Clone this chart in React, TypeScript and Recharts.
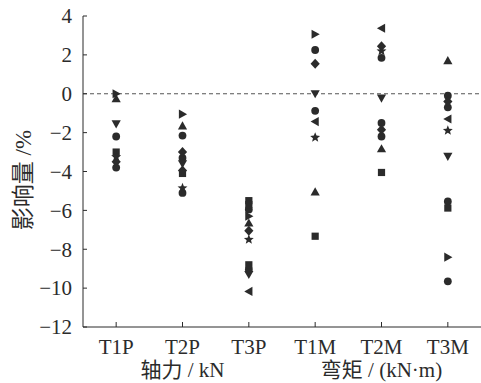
// Influence of the test cases on axial force and bending moment — scatter by case.
import { ReferenceLine, Scatter, ScatterChart, XAxis, YAxis } from "recharts";

const categories = ["T1P", "T2P", "T3P", "T1M", "T2M", "T3M"];
const groupLabels: Record<number, string> = { 1: "轴力 / kN", 4: "弯矩 / (kN·m)" };
const yTicks = [-12, -10, -8, -6, -4, -2, 0, 2, 4];

type Pt = [string, number];

const circlePts: Pt[] = [
  ["T1P", -2.2], ["T1P", -3.8],
  ["T2P", -2.15], ["T2P", -3.3], ["T2P", -5.1],
  ["T3P", -5.95], ["T3P", -9.05],
  ["T1M", 2.25], ["T1M", -0.88],
  ["T2M", 1.85], ["T2M", -1.5], ["T2M", -2.2],
  ["T3M", -0.1], ["T3M", -0.7], ["T3M", -5.54], ["T3M", -9.65],
];
const squarePts: Pt[] = [
  ["T1P", -3.0],
  ["T2P", -4.1],
  ["T3P", -5.5], ["T3P", -5.7], ["T3P", -8.8],
  ["T1M", -7.33],
  ["T2M", -4.05],
  ["T3M", -5.88],
];
const diamondPts: Pt[] = [
  ["T1P", -3.5],
  ["T2P", -3.0], ["T2P", -3.95],
  ["T3P", -7.05],
  ["T1M", 1.54],
  ["T2M", 2.45], ["T2M", -1.85],
  ["T3M", -0.4],
];
const upPts: Pt[] = [
  ["T1P", -0.25],
  ["T2P", -1.65],
  ["T3P", -6.65],
  ["T1M", -5.05],
  ["T2M", -2.83],
  ["T3M", 1.7],
];
const downPts: Pt[] = [
  ["T1P", -1.55],
  ["T2P", -3.6],
  ["T3P", -9.3],
  ["T1M", 0.0],
  ["T2M", -0.23],
  ["T3M", -3.22],
];
const leftPts: Pt[] = [
  ["T3P", -10.17],
  ["T1M", -1.43],
  ["T2M", 3.37],
  ["T3M", -1.3],
];
const rightPts: Pt[] = [
  ["T1P", 0.0],
  ["T2P", -1.05],
  ["T3P", -6.3],
  ["T1M", 3.06],
  ["T3M", -8.41],
];
const starPts: Pt[] = [
  ["T1P", -3.25],
  ["T2P", -4.85],
  ["T3P", -7.5],
  ["T1M", -2.25],
  ["T2M", 2.2],
  ["T3M", -1.89],
];

const INK = "#2b2b2b";
const FONT = "'Liberation Serif', 'Noto Sans CJK SC', serif";

const toRows = (pts: Pt[]) => pts.map(([c, v]) => ({ x: categories.indexOf(c) + 1, y: v }));

function starPath(cx: number, cy: number, R: number, r: number) {
  const pts: string[] = [];
  for (let i = 0; i < 10; i++) {
    const a = -Math.PI / 2 + (i * Math.PI) / 5;
    const rr = i % 2 === 0 ? R : r;
    pts.push(`${cx + rr * Math.cos(a)},${cy + rr * Math.sin(a)}`);
  }
  return pts.join(" ");
}

function makeShape(kind: string) {
  return (p: any) => {
    const { cx, cy } = p;
    if (cx == null || cy == null) return <g />;
    switch (kind) {
      case "circle":
        return <circle cx={cx} cy={cy} r={3.9} fill={INK} />;
      case "square":
        return <rect x={cx - 3.6} y={cy - 3.6} width={7.2} height={7.2} fill={INK} />;
      case "diamond":
        return <polygon points={`${cx},${cy - 5} ${cx + 4.6},${cy} ${cx},${cy + 5} ${cx - 4.6},${cy}`} fill={INK} />;
      case "up":
        return <polygon points={`${cx},${cy - 4.6} ${cx + 4.6},${cy + 3.6} ${cx - 4.6},${cy + 3.6}`} fill={INK} />;
      case "down":
        return <polygon points={`${cx},${cy + 4.6} ${cx + 4.6},${cy - 3.6} ${cx - 4.6},${cy - 3.6}`} fill={INK} />;
      case "left":
        return <polygon points={`${cx - 4.6},${cy} ${cx + 3.6},${cy - 4.6} ${cx + 3.6},${cy + 4.6}`} fill={INK} />;
      case "right":
        return <polygon points={`${cx + 4.6},${cy} ${cx - 3.6},${cy - 4.6} ${cx - 3.6},${cy + 4.6}`} fill={INK} />;
      default:
        return <polygon points={starPath(cx, cy, 5.2, 2.3)} fill={INK} />;
    }
  };
}

const series: [string, Pt[]][] = [
  ["circle", circlePts],
  ["square", squarePts],
  ["diamond", diamondPts],
  ["up", upPts],
  ["down", downPts],
  ["left", leftPts],
  ["right", rightPts],
  ["star", starPts],
];

function XTick({ x, y, payload }: any) {
  const idx = payload.value - 1;
  return (
    <g>
      <line x1={x} y1={y} x2={x} y2={y - 5} stroke={INK} strokeWidth={1} />
      <text x={x} y={y + 27} textAnchor="middle" fontSize={21} style={{ fontFamily: FONT }} fill={INK}>
        {categories[idx]}
      </text>
      {groupLabels[idx] && (
        <text x={x} y={y + 50} textAnchor="middle" fontSize={21} style={{ fontFamily: FONT }} fill={INK}>
          {groupLabels[idx]}
        </text>
      )}
    </g>
  );
}

function YTick({ x, y, payload }: any) {
  const v = payload.value as number;
  return (
    <g>
      <line x1={x} y1={y} x2={x + 4} y2={y} stroke={INK} strokeWidth={1} />
      <text x={x - 11} y={y} dy="0.35em" textAnchor="end" fontSize={21} style={{ fontFamily: FONT }} fill={INK}>
        {v < 0 ? `\u2212${Math.abs(v)}` : String(v)}
      </text>
    </g>
  );
}

function YLabel() {
  return (
    <text
      x={23}
      y={180}
      transform="rotate(-90 23 180)"
      dy="0.35em"
      textAnchor="middle"
      fontSize={23}
      style={{ fontFamily: FONT }}
      fill={INK}
    >
      影响量 /%
    </text>
  );
}

export default function App() {
  return (
    <div style={{ position: "absolute", left: 0, top: 0, background: "#fff" }}>
      <ScatterChart width={481} height={383} margin={{ top: 16, right: 0, bottom: 0, left: 0 }}>
        <XAxis
          type="number"
          dataKey="x"
          domain={[0.5, 6.5]}
          ticks={[1, 2, 3, 4, 5, 6]}
          interval={0}
          height={56}
          tickSize={0}
          tickMargin={0}
          tickLine={false}
          axisLine={{ stroke: INK, strokeWidth: 1 }}
          tick={<XTick />}
        />
        <YAxis
          type="number"
          dataKey="y"
          domain={[-12, 4]}
          ticks={yTicks}
          interval={0}
          width={83}
          tickSize={0}
          tickMargin={0}
          tickLine={false}
          axisLine={{ stroke: INK, strokeWidth: 1 }}
          tick={<YTick />}
          label={() => <YLabel />}
        />
        <ReferenceLine y={0} stroke="#555" strokeWidth={1} strokeDasharray="4 3" />
        {series.map(([kind, pts]) => (
          <Scatter
            key={kind}
            data={toRows(pts)}
            shape={makeShape(kind)}
            isAnimationActive={false}
          />
        ))}
      </ScatterChart>
    </div>
  );
}
